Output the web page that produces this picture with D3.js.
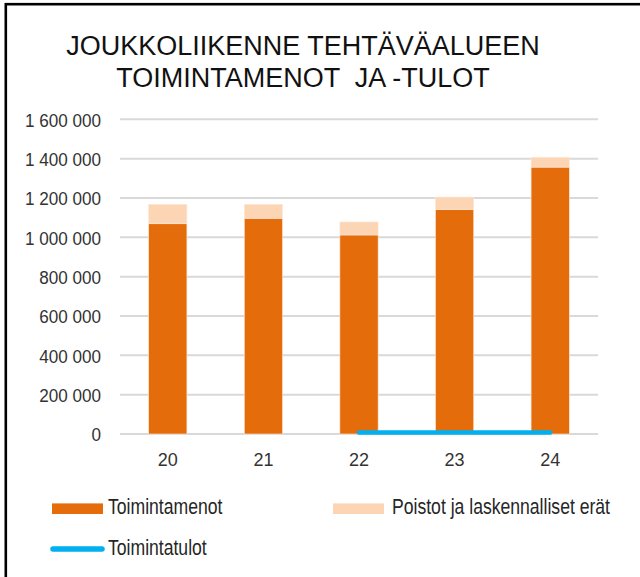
<!DOCTYPE html>
<html>
<head>
<meta charset="utf-8">
<script src="https://cdn.jsdelivr.net/npm/d3@7"></script>
<style>
  body { margin: 0; background: #fff; }
  svg { display: block; font-family: "Liberation Sans", Arial, sans-serif; }
</style>
</head>
<body>
<div id="chart"></div>
<script>
"use strict";
// values
var years = ["20", "21", "22", "23", "24"];
var toimintamenot = [1069000, 1097000, 1012000, 1142000, 1357000];
var poistot = [99000, 71000, 66000, 63000, 50000];
var toimintatulot = [null, null, 8000, 8000, 8000];
var yTicks = [0, 200000, 400000, 600000, 800000, 1000000, 1200000, 1400000, 1600000];
var titleLines = ["JOUKKOLIIKENNE TEHTÄVÄALUEEN", "TOIMINTAMENOT  JA -TULOT"];
var seriesNames = ["Toimintamenot", "Poistot ja laskennalliset erät", "Toimintatulot"];

var colors = { menot: "#E46C0A", poistot: "#FCD5B5", tulot: "#00B0F0", grid: "#D9D9D9" };

var W = 640, H = 577;
var plot = { left: 120, right: 598, top: 119.3, bottom: 434 };

var svg = d3.select("#chart").append("svg")
  .attr("width", W)
  .attr("height", H);

svg.append("rect")
  .attr("width", W).attr("height", H)
  .attr("fill", "#fff");

// frame: only left and top edges show in the picture
svg.append("rect")
  .attr("x", 5.8).attr("y", 4.2)
  .attr("width", 800).attr("height", 800)
  .attr("fill", "none")
  .attr("stroke", "#000")
  .attr("stroke-width", 2.6);

// title
svg.append("text")
  .attr("text-anchor", "middle")
  .attr("font-size", 27)
  .attr("fill", "#111")
  .style("white-space", "pre")
  .selectAll("tspan")
  .data(titleLines)
  .enter().append("tspan")
  .attr("x", 303)
  .attr("y", function(d, i) { return 55 + i * 32; })
  .text(function(d) { return d; });

var x = d3.scaleBand()
  .domain(years)
  .range([plot.left, plot.right])
  .paddingInner(0.6)
  .paddingOuter(0.3);

var y = d3.scaleLinear()
  .domain([0, 1600000])
  .range([plot.bottom, plot.top]);

// gridlines
svg.append("g")
  .selectAll("line")
  .data(yTicks)
  .enter().append("line")
  .attr("x1", plot.left).attr("x2", plot.right)
  .attr("y1", function(d) { return y(d); })
  .attr("y2", function(d) { return y(d); })
  .attr("stroke", colors.grid)
  .attr("stroke-width", 2);

// y axis labels
var fmt = function(v) { return d3.format(",")(v).replace(/,/g, " "); };
var yAxis = svg.append("g")
  .attr("transform", "translate(" + (plot.left - 11) + ",0)")
  .call(d3.axisLeft(y).tickValues(yTicks).tickFormat(fmt).tickSize(0).tickPadding(9));
yAxis.select(".domain").remove();
yAxis.selectAll("text")
  .attr("font-family", "'Liberation Sans', Arial, sans-serif")
  .attr("font-size", 19)
  .attr("fill", "#333")
  .attr("dy", "0.36em")
  .attr("transform", "scale(0.9,1)");

// x axis labels
var xAxis = svg.append("g")
  .attr("transform", "translate(0," + plot.bottom + ")")
  .call(d3.axisBottom(x).tickSize(0).tickPadding(19));
xAxis.select(".domain").remove();
xAxis.selectAll("text")
  .attr("font-family", "'Liberation Sans', Arial, sans-serif")
  .attr("font-size", 18)
  .attr("fill", "#333");

// stacked bars
var barData = years.map(function(yr, i) {
  return { year: yr, menot: toimintamenot[i], poistot: poistot[i] };
});
var stack = d3.stack().keys(["menot", "poistot"])(barData);

svg.append("g")
  .selectAll("g")
  .data(stack)
  .enter().append("g")
  .attr("fill", function(d) { return colors[d.key]; })
  .selectAll("rect")
  .data(function(d) { return d; })
  .enter().append("rect")
  .attr("x", function(d) { return x(d.data.year); })
  .attr("width", x.bandwidth())
  .attr("y", function(d) { return y(d[1]); })
  .attr("height", function(d) { return y(d[0]) - y(d[1]); })
  .attr("stroke", "#FDE9D9")
  .attr("stroke-width", 0.6);

// income line
var line = d3.line()
  .defined(function(d) { return d !== null; })
  .x(function(d, i) { return x(years[i]) + x.bandwidth() / 2; })
  .y(function(d) { return y(d); });

svg.append("path")
  .datum(toimintatulot)
  .attr("d", line)
  .attr("fill", "none")
  .attr("stroke", colors.tulot)
  .attr("stroke-width", 4.5)
  .attr("stroke-linecap", "round");

// legend
var legendItems = [
  { name: seriesNames[0], type: "rect", color: colors.menot, kx: 52, tx: 108, ky: 508.7, ty: 513.5 },
  { name: seriesNames[1], type: "rect", color: colors.poistot, kx: 333, tx: 392, ky: 508.7, ty: 513.5 },
  { name: seriesNames[2], type: "line", color: colors.tulot, kx: 52, tx: 108, ky: 549, ty: 555 }
];

var legend = svg.append("g");
legendItems.forEach(function(it) {
  if (it.type === "rect") {
    legend.append("rect")
      .attr("x", it.kx).attr("y", it.ky - 5.3)
      .attr("width", 51).attr("height", 10.6)
      .attr("fill", it.color);
  } else {
    legend.append("line")
      .attr("x1", it.kx + 1).attr("x2", it.kx + 50)
      .attr("y1", it.ky).attr("y2", it.ky)
      .attr("stroke", it.color)
      .attr("stroke-width", 5.5)
      .attr("stroke-linecap", "round");
  }
  legend.append("text")
    .attr("transform", "translate(" + it.tx + "," + it.ty + ") scale(0.8,1)")
    .attr("font-size", 22)
    .attr("fill", "#262626")
    .text(it.name);
});
</script>
</body>
</html>
